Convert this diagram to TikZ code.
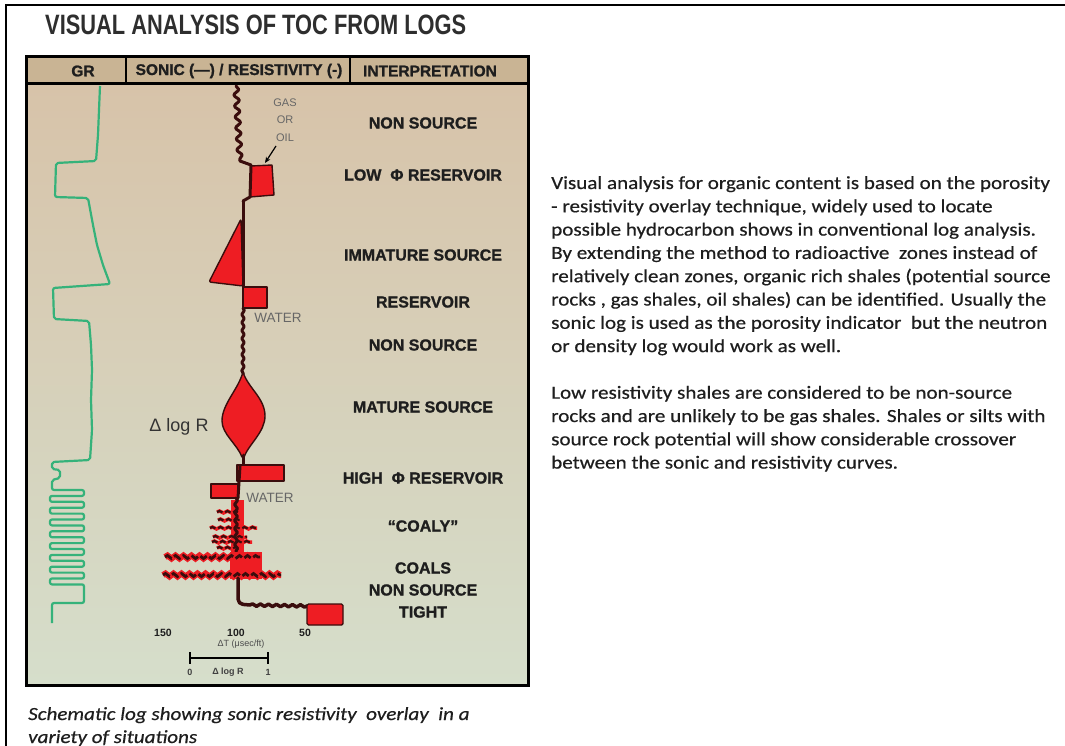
\documentclass[tikz,border=0pt]{standalone}
\usepackage{fontspec}
\setmainfont{Liberation Sans}
\newfontfamily\calfont{Carlito}[FakeStretch=1.14,FakeBold=0.5]
\newfontfamily\heavyfont{Liberation Sans Bold}[FakeBold=1.2]
\usetikzlibrary{decorations.pathmorphing,arrows.meta}
\definecolor{logred}{HTML}{EE1D23}
\definecolor{logdark}{HTML}{3A0D0D}
\definecolor{grgreen}{HTML}{35B27A}
\definecolor{hdrtan}{HTML}{C9B494}
\definecolor{bgtop}{HTML}{D7C3A9}
\definecolor{bgmid}{HTML}{ECEAE5}
\definecolor{bgbot}{HTML}{D6DECB}
\definecolor{txt}{HTML}{1E1E1E}
\tikzset{
 interp/.style={font=\heavyfont\fontsize{16}{16}\selectfont, text=txt, inner sep=0pt},
 hdr/.style={font=\heavyfont\fontsize{15.5}{16}\selectfont, text=txt, inner sep=0pt},
 smallgray/.style={font=\fontsize{11}{11}\selectfont, text=black!60, inner sep=0pt},
 waterlbl/.style={font=\fontsize{13.5}{14}\selectfont, text=black!60, inner sep=0pt},
 body/.style={font=\calfont\fontsize{18.5}{20}\selectfont, text=txt, anchor=base west, inner sep=0pt},
 capt/.style={font=\calfont\itshape\fontsize{18.5}{20}\selectfont, text=txt, anchor=base west, inner sep=0pt},
 redblock/.style={fill=logred, draw=logdark, line width=1.4pt, line join=round},
 darkline/.style={draw=logdark, line width=3pt, line cap=round, line join=round},
 snk/.style={decorate, decoration={snake, amplitude=#1, segment length=8pt}},
 snk/.default=1.5pt,
 grline/.style={draw=grgreen, line width=2.2pt, line join=round, rounded corners=2pt},
 scalelbl/.style={font=\fontsize{10.5}{11}\selectfont\bfseries, text=txt, inner sep=0pt},
 tinylbl/.style={font=\fontsize{9}{9}\selectfont, text=black!70, inner sep=0pt},
 tinybold/.style={font=\fontsize{9}{9}\selectfont\bfseries, text=black!75, inner sep=0pt},
}
\begin{document}
\begin{tikzpicture}[x=1pt,y=-1pt]
\useasboundingbox (0,0) rectangle (1065,746);
\fill[white] (0,0) rectangle (1065,746);
% outer frame (top and left)
\draw[line width=2pt] (6,746) -- (6,5) -- (1065,5);
% title
\node[anchor=base west, inner sep=0pt, text=black!82] (title) at (45,35)
  {\scalebox{0.78}[1]{\fontsize{28}{30}\selectfont\bfseries VISUAL ANALYSIS OF TOC FROM LOGS}};
% log panel
\fill[hdrtan] (26,57) rectangle (528,84);
\shade[top color=bgtop, middle color=bgmid, bottom color=bgbot] (26,84) rectangle (528,685);
\draw[line width=2pt] (126,57) -- (126,84);
\draw[line width=2pt] (350,57) -- (350,84);
\draw[line width=3pt] (26,84) -- (528,84);
\draw[line width=3pt] (26,57) rectangle (528,685);
\node[hdr] (hgr) at (83,71) {GR};
\node[hdr] (hson) at (239,71) {SONIC (—) / RESISTIVITY (-)};
\node[hdr] (hint) at (430,71) {INTERPRETATION};
% GR curve
\draw[grline] (100,86) -- (99,110) -- (98,135) -- (96,161) -- (56,163) -- (55,197) -- (88,198)
  -- (93,225) -- (97,245) -- (103,265) -- (110,284) -- (53,288) -- (54,319) -- (89,321)
  -- (91,345) -- (92,370) -- (91,400) -- (92,430) -- (90,460) -- (52,462) -- (52,469)
  -- (60,470) -- (60,478) -- (52,480) -- (52,490)
  \foreach \k in {0,...,7} { -- (84,{490+\k*11.8}) -- (84,{495.9+\k*11.8}) -- (50,{495.9+\k*11.8}) -- (50,{501.8+\k*11.8}) }
  -- (84,584.4) -- (84,603) -- (52,603) -- (52,623);
% sonic / resistivity overlay
\draw[darkline, decorate, decoration={snake, amplitude=2.5pt, segment length=11pt}] (236,86) -- (240,161);
\filldraw[redblock] (251,166) -- (272,165) -- (274,195) -- (250,197) -- cycle;
\draw[darkline] (240,161) -- (251,165) -- (250,197) -- (243,201);
\filldraw[redblock, rounded corners=2pt] (241,219) -- (243,286) -- (209,282) -- cycle;
\draw[darkline] (243,201) -- (243,287);
\filldraw[redblock] (243,287) rectangle (267,308);
\draw[darkline, snk=1.2pt] (243,308) -- (243,374);
\filldraw[redblock] (243,372) .. controls (248,388) and (265,398) .. (265,416)
  .. controls (265,432) and (249,444) .. (244,457) -- (242,457)
  .. controls (237,444) and (222,434) .. (222,421)
  .. controls (222,404) and (238,390) .. (243,372) -- cycle;
\draw[darkline] (243,455) -- (243,466);
\filldraw[redblock] (237,465) rectangle (284,481);
\filldraw[redblock] (211,484) rectangle (238,498);
\draw[darkline] (240,466) -- (238,498);
% coaly zone
\fill[logred] (231,500) rectangle (244,552);
\foreach \ya/\xa/\xb in {512/217/238, 520/218/241, 528/210/257, 537/213/247, 542/212/252, 548/217/240}{
  \draw[logred, line width=3.5pt, snk=1pt] (\xa,\ya) -- (\xb,\ya);
  \draw[logdark, line width=2.2pt, dash pattern=on 6pt off 3pt, snk=1pt] (\xa,\ya) -- (\xb,\ya);
}
\draw[darkline, snk=1.5pt] (236,498) -- (236,553);
% coals
\fill[logred] (230,552) rectangle (262,579);
\draw[logred, line width=6pt, snk=1.5pt] (165,557) -- (260,557);
\draw[logdark, line width=2.8pt, dash pattern=on 8pt off 3pt, snk=1.5pt] (165,557) -- (260,557);
\draw[logred, line width=6pt, snk=1.5pt] (163,575) -- (281,575);
\draw[logdark, line width=2.8pt, dash pattern=on 8pt off 3pt, snk=1.5pt] (163,575) -- (281,575);
% tight
\draw[darkline, line width=3.5pt, rounded corners=5pt] (238,578) -- (238,604) -- (250,605);
\draw[darkline, line width=3.5pt, snk=1.2pt] (250,605) -- (308,606);
\filldraw[redblock, rounded corners=1.5pt] (307,604) rectangle (343,625);
% labels in log
\node[smallgray] (gas) at (285,103) {GAS};
\node[smallgray] (or) at (285,120) {OR};
\node[smallgray] (oil) at (285,138) {OIL};
\coordinate (arrtail) at (276,146);
\coordinate (arrtip) at (265,163);
\draw[line width=1.2pt, -{Stealth[length=6pt,width=5pt]}] (arrtail) -- (arrtip);
\node[waterlbl] (water1) at (278,318) {WATER};
\node[waterlbl] (water2) at (270,498) {WATER};
\node[font=\fontsize{18}{18}\selectfont, text=black!80, inner sep=0pt] (dlogr) at (179,427) {Δ log R};
% interpretation
\node[interp] (i1) at (423,123) {NON SOURCE};
\node[interp] (i2) at (423,175) {LOW\ \ Φ RESERVOIR};
\node[interp] (i3) at (423,255) {IMMATURE SOURCE};
\node[interp] (i4) at (423,302) {RESERVOIR};
\node[interp] (i5) at (423,345) {NON SOURCE};
\node[interp] (i6) at (423,407) {MATURE SOURCE};
\node[interp] (i7) at (423,478) {HIGH\ \ Φ RESERVOIR};
\node[interp] (i8) at (423,526) {“COALY”};
\node[interp] (i9) at (423,568) {COALS};
\node[interp] (i10) at (423,590) {NON SOURCE};
\node[interp] (i11) at (423,612) {TIGHT};
% scale
\node[scalelbl] (s150) at (163,633) {150};
\node[scalelbl] (s100) at (236,633) {100};
\node[scalelbl] (s50) at (305,633) {50};
\node[tinylbl] (dt) at (241,644) {ΔT (μsec/ft)};
\coordinate (barl) at (190,658);
\coordinate (barr) at (268,658);
\draw[line width=1.8pt] (barl) -- (barr);
\draw[line width=1.8pt] (190,652) -- (190,664);
\draw[line width=1.8pt] (268,652) -- (268,664);
\node[tinybold] (z0) at (190,672) {0};
\node[tinybold] (zl) at (228,672) {Δ log R};
\node[tinybold] (z1) at (268,672) {1};
% caption
\node[capt] (cap1) at (28,720) {Schematic log showing sonic resistivity\ \ overlay\ \ in a};
\node[capt] (cap2) at (28,743) {variety of situations};
% right text
\node[body] (t1) at (551,189) {Visual analysis for organic content is based on the porosity};
\node[body] (t2) at (551,212.3) {- resistivity overlay technique, widely used to locate};
\node[body] (t3) at (551,235.6) {possible hydrocarbon shows in conventional log analysis.};
\node[body] (t4) at (551,258.9) {By extending the method to radioactive\ \ zones instead of};
\node[body] (t5) at (551,282.2) {relatively clean zones, organic rich shales (potential\ source};
\node[body] (t6) at (551,305.5) {rocks , gas shales, oil shales) can be identified. Usually\ the};
\node[body] (t7) at (551,328.8) {sonic log is used as the porosity indicator\ \ but the neutron};
\node[body] (t8) at (551,352.1) {or density log would work as well.};
\node[body] (t9) at (551,398.7) {Low resistivity shales are considered to be non-source};
\node[body] (t10) at (551,422) {rocks and are unlikely to be gas shales. Shales or silts with};
\node[body] (t11) at (551,445.3) {source rock potential will show considerable crossover};
\node[body] (t12) at (551,468.6) {between the sonic and resistivity curves.};
\end{tikzpicture}
\end{document}
